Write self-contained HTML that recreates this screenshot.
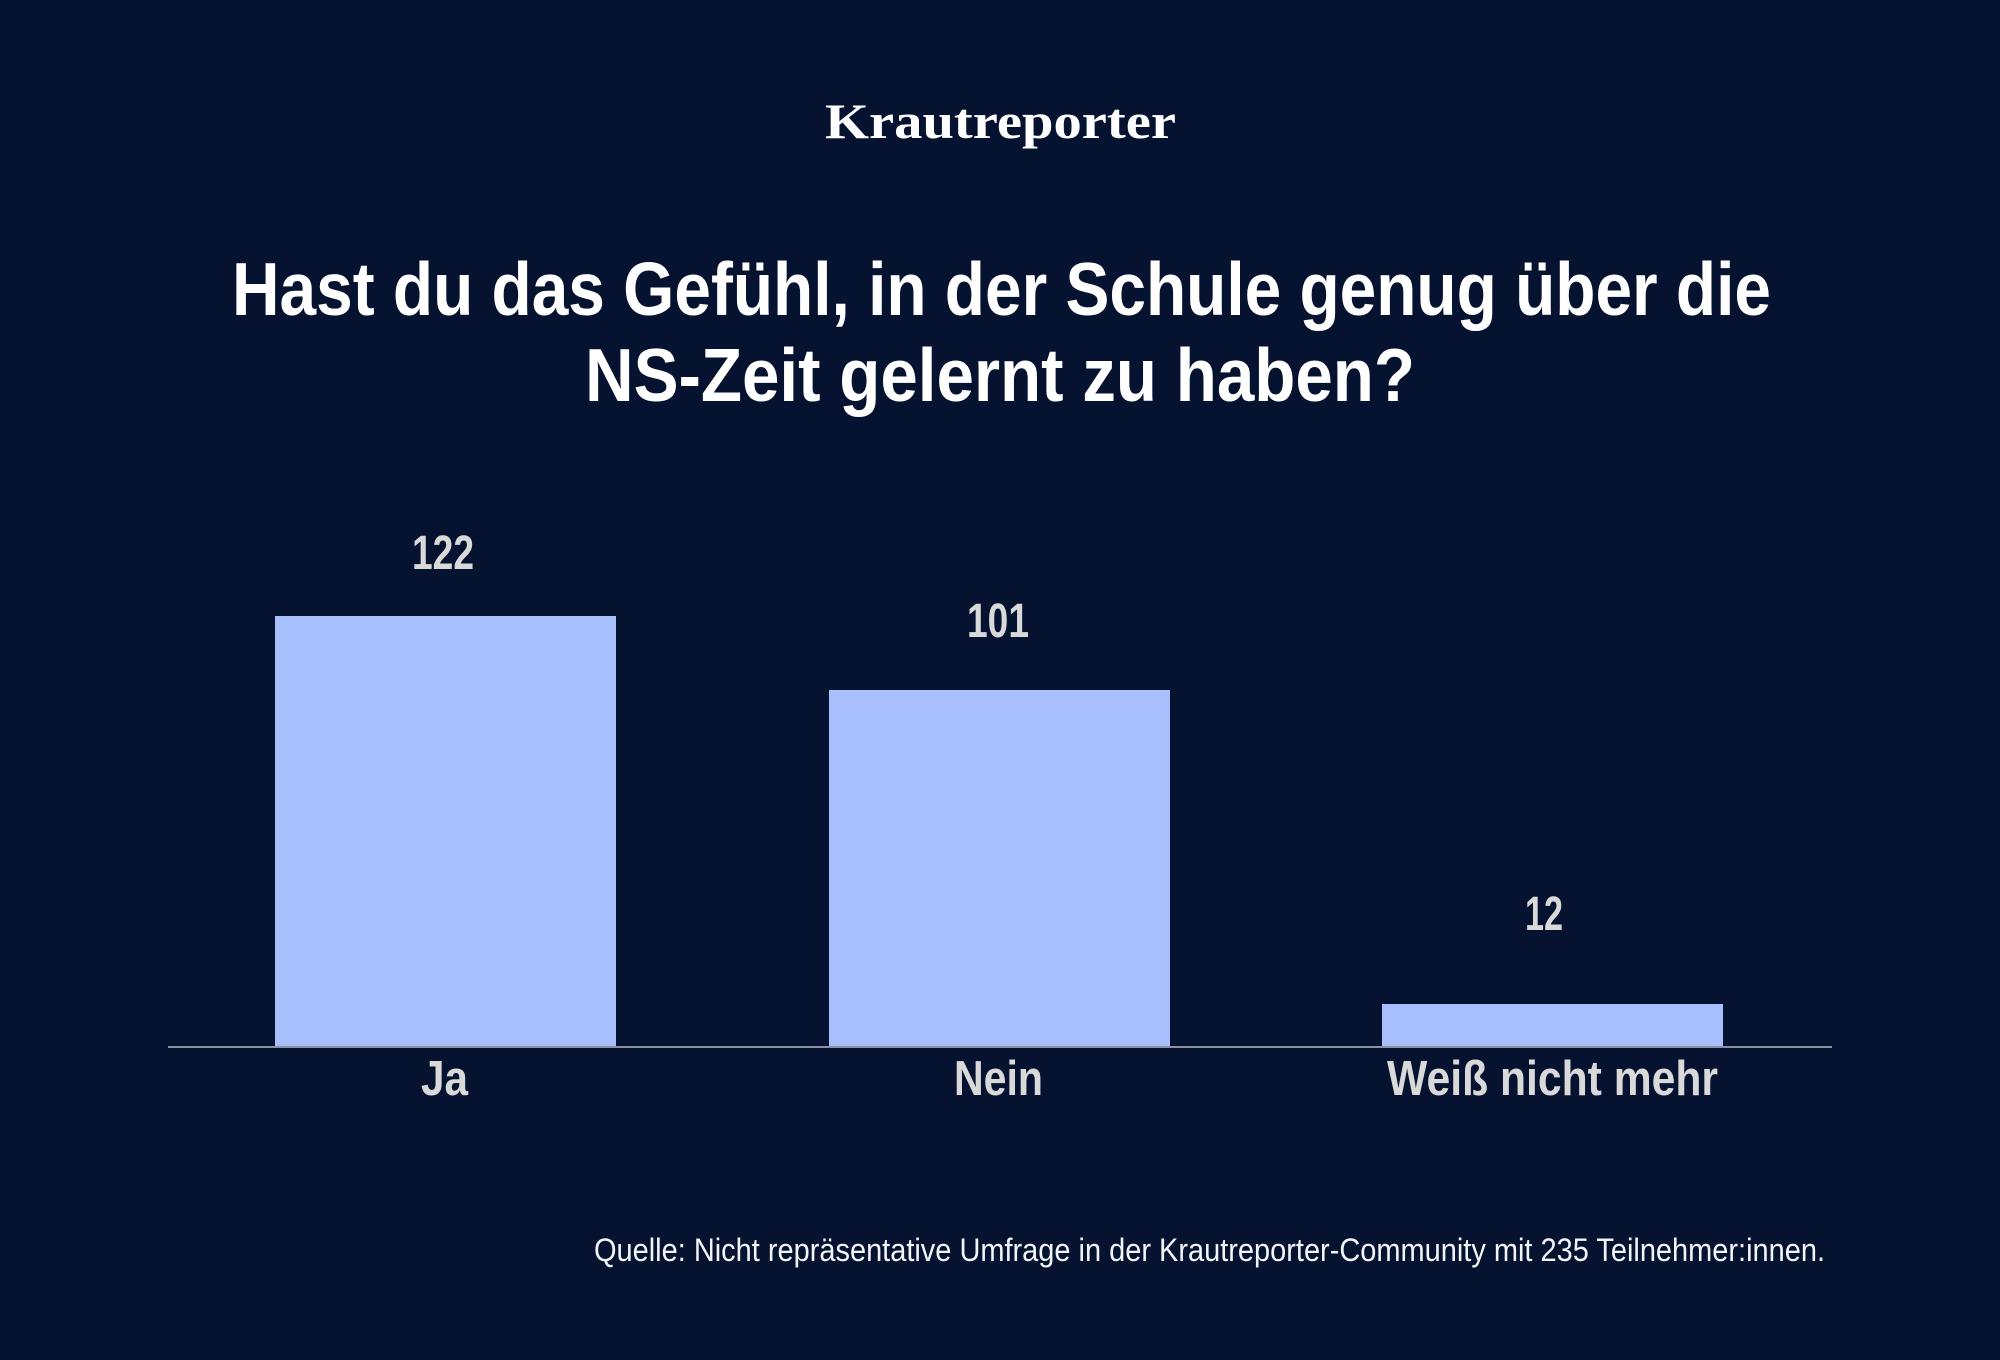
<!DOCTYPE html>
<html>
<head>
<meta charset="utf-8">
<style>
  html, body { margin:0; padding:0; background:#051331; }
  svg { display:block; }
</style>
</head>
<body>
<svg width="2000" height="1360" viewBox="0 0 2000 1360" xmlns="http://www.w3.org/2000/svg">
  <rect x="0" y="0" width="2000" height="1360" fill="#051331"/>

  <!-- Logo -->
  <text x="825" y="138" font-family="'Liberation Serif', serif" font-size="50" font-weight="bold" fill="#ffffff" textLength="351" lengthAdjust="spacingAndGlyphs">Krautreporter</text>

  <!-- Title -->
  <text x="232" y="315" font-family="'Liberation Sans', sans-serif" font-size="75" font-weight="bold" fill="#ffffff" textLength="1539" lengthAdjust="spacingAndGlyphs">Hast du das Gefühl, in der Schule genug über die</text>
  <text x="585" y="401" font-family="'Liberation Sans', sans-serif" font-size="75" font-weight="bold" fill="#ffffff" textLength="830" lengthAdjust="spacingAndGlyphs">NS-Zeit gelernt zu haben?</text>

  <!-- Bars -->
  <rect x="275" y="616" width="341" height="431" fill="#a7c0fd"/>
  <rect x="829" y="690" width="341" height="357" fill="#a7c0fd"/>
  <rect x="1382" y="1004" width="341" height="43" fill="#a7c0fd"/>

  <!-- Axis -->
  <rect x="168" y="1046" width="1664" height="2" fill="#8a90a3"/>

  <!-- Value labels -->
  <g font-family="'Liberation Sans', sans-serif" font-size="48" font-weight="bold" fill="#d9d9d9">
    <text x="412" y="569" textLength="62" lengthAdjust="spacingAndGlyphs">122</text>
    <text x="967" y="637" textLength="62" lengthAdjust="spacingAndGlyphs">101</text>
    <text x="1525" y="930" textLength="38" lengthAdjust="spacingAndGlyphs">12</text>
  </g>

  <!-- Category labels -->
  <g font-family="'Liberation Sans', sans-serif" font-size="49" font-weight="bold" fill="#d9d9d9">
    <text x="421" y="1095" textLength="47" lengthAdjust="spacingAndGlyphs">Ja</text>
    <text x="954" y="1095" textLength="89" lengthAdjust="spacingAndGlyphs">Nein</text>
    <text x="1387" y="1095" textLength="331" lengthAdjust="spacingAndGlyphs">Weiß nicht mehr</text>
  </g>

  <!-- Source -->
  <text x="594" y="1261" font-family="'Liberation Sans', sans-serif" font-size="32" fill="#f2f4f8" textLength="1231" lengthAdjust="spacingAndGlyphs">Quelle: Nicht repräsentative Umfrage in der Krautreporter-Community mit 235 Teilnehmer:innen.</text>
</svg>
</body>
</html>
